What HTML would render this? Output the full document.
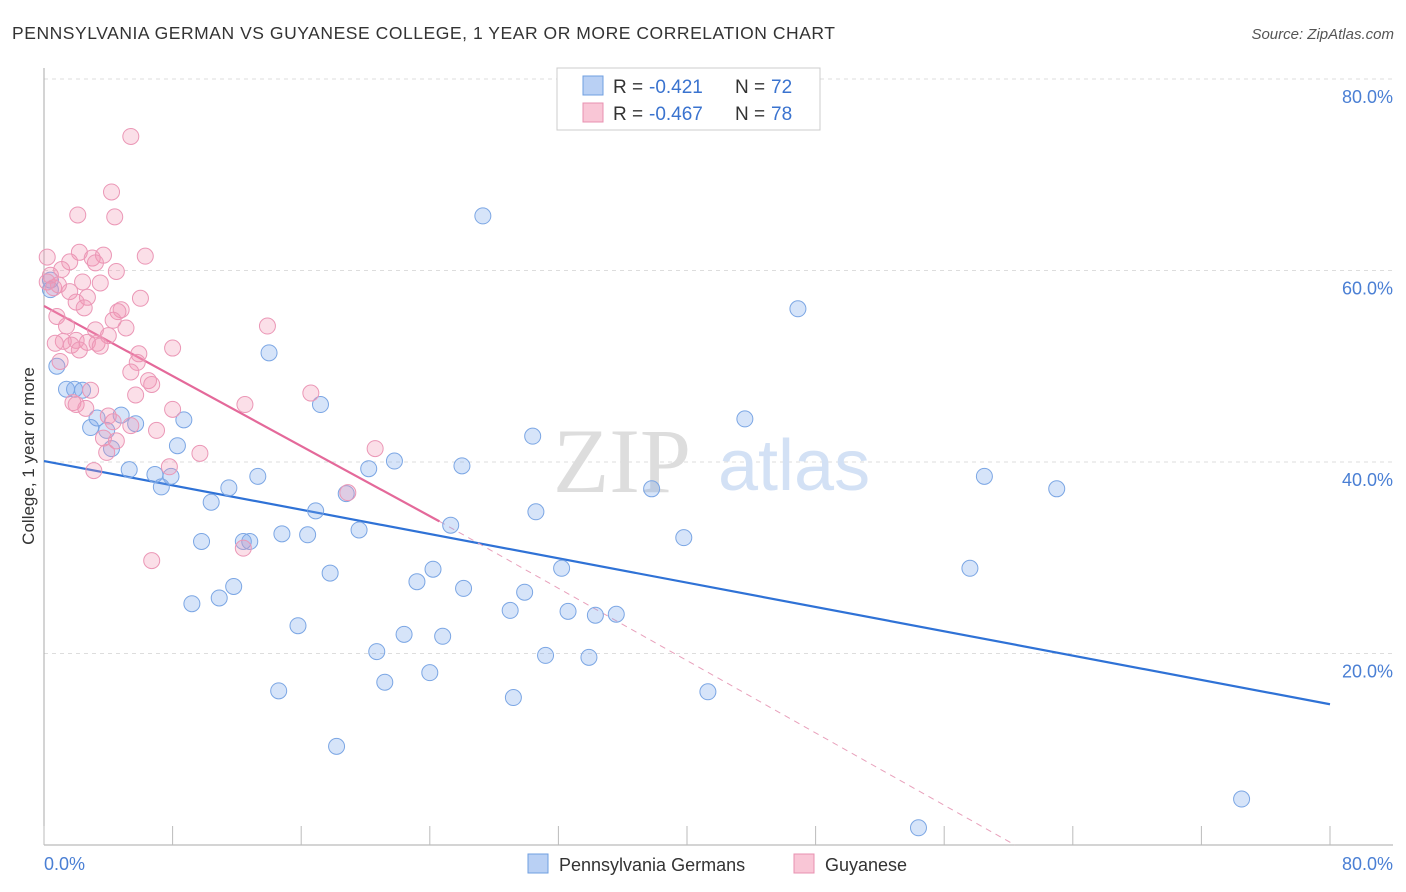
<!DOCTYPE html>
<html><head><meta charset="utf-8"><style>
body{margin:0;background:#fff;font-family:"Liberation Sans",sans-serif;}
svg{display:block}
</style></head><body>
<svg id="chart" width="1406" height="892" viewBox="0 0 1406 892" xmlns="http://www.w3.org/2000/svg">
<text x="12" y="39" font-size="17.5" fill="#333" textLength="823" lengthAdjust="spacing">PENNSYLVANIA GERMAN VS GUYANESE COLLEGE, 1 YEAR OR MORE CORRELATION CHART</text>
<text x="1394" y="39" font-size="15" fill="#555" text-anchor="end" font-style="italic">Source: ZipAtlas.com</text>
<g id="grid"></g>
<g>
<text x="553" y="492" font-size="92" fill="#ddd" font-family="Liberation Serif, serif">ZIP</text>
<text x="718" y="490" font-size="72" fill="#d3e1f5">atlas</text>
</g>
<text transform="translate(34,456) rotate(-90)" font-size="17" fill="#333" text-anchor="middle">College, 1 year or more</text>
<g id="axes"></g>
<g id="lines"></g>
<g id="pts"></g>
<g>
<rect x="557" y="68" width="263" height="62" fill="#fff" stroke="#ccc"/>
<rect x="583" y="76" width="20" height="19" fill="#b9d0f4" stroke="#6f9fe0"/>
<rect x="583" y="103" width="20" height="19" fill="#f9c6d6" stroke="#e890b0"/>
<text x="613" y="93" font-size="19" fill="#333">R =</text>
<text x="649" y="93" font-size="19" fill="#3a73cf">-0.421</text>
<text x="735" y="93" font-size="19" fill="#333">N =</text>
<text x="771" y="93" font-size="19" fill="#3a73cf">72</text>
<text x="613" y="120" font-size="19" fill="#333">R =</text>
<text x="649" y="120" font-size="19" fill="#3a73cf">-0.467</text>
<text x="735" y="120" font-size="19" fill="#333">N =</text>
<text x="771" y="120" font-size="19" fill="#3a73cf">78</text>
</g>
<g>
<rect x="528" y="854" width="20" height="19" fill="#b9d0f4" stroke="#6f9fe0"/>
<text x="559" y="871" font-size="18" fill="#333">Pennsylvania Germans</text>
<rect x="794" y="854" width="20" height="19" fill="#f9c6d6" stroke="#e890b0"/>
<text x="825" y="871" font-size="18" fill="#333">Guyanese</text>
</g>
</svg>
<script>
const yTicks=[20,40,60,80];
const yTickLabels=["20.0%","40.0%","60.0%","80.0%"];
const xTicks=[0,8,16,24,32,40,48,56,64,72,80];
const blueX=[27.3,46.9,14.0,0.8,1.4,1.9,2.4,17.2,43.6,4.8,3.3,8.7,5.7,2.9,3.9,30.4,8.3,4.2,21.8,26.0,20.2,5.3,6.9,7.9,13.3,58.5,63.0,7.3,11.5,37.8,18.8,10.4,16.9,30.6,25.3,19.6,14.8,16.4,39.8,9.8,12.4,12.8,32.2,57.6,24.2,17.8,23.2,11.8,26.1,29.9,10.9,9.2,29.0,32.6,34.3,35.6,15.8,22.4,24.8,20.7,31.2,33.9,24.0,21.2,14.6,41.3,29.2,18.2,74.5,54.4,0.4,0.4];
const blueY=[65.7,56.0,51.4,50.0,47.6,47.6,47.5,46.0,44.5,44.9,44.6,44.4,44.0,43.6,43.3,42.7,41.7,41.4,40.1,39.6,39.3,39.2,38.7,38.5,38.5,38.5,37.2,37.4,37.3,37.2,36.7,35.8,34.9,34.8,33.4,32.9,32.5,32.4,32.1,31.7,31.7,31.7,28.9,28.9,28.8,28.4,27.5,27.0,26.8,26.4,25.8,25.2,24.5,24.4,24.0,24.1,22.9,22.0,21.8,20.2,19.8,19.6,18.0,17.0,16.1,16.0,15.4,10.3,4.8,1.8,59.0,58.0];
const pinkX=[5.4,4.2,2.1,4.4,0.2,2.2,3.0,3.7,6.3,1.6,3.2,1.1,4.5,0.4,2.4,3.5,0.6,1.6,2.7,6.0,2.0,2.5,4.8,4.6,0.8,4.3,13.9,1.4,3.2,5.1,4.0,2.0,1.2,0.7,2.7,3.3,1.7,3.5,2.2,8.0,5.9,1.0,5.8,5.4,6.5,6.7,2.9,16.6,5.7,12.5,1.8,2.0,2.6,8.0,4.0,4.3,5.4,7.0,3.7,4.5,20.6,3.9,9.7,7.8,3.1,18.9,12.4,6.7,0.2,0.9];
const pinkY=[74.0,68.2,65.8,65.6,61.4,61.9,61.3,61.6,61.5,60.9,60.8,60.1,59.9,59.5,58.8,58.7,58.2,57.8,57.2,57.1,56.7,56.1,55.9,55.7,55.2,54.8,54.2,54.2,53.8,54.0,53.2,52.7,52.6,52.4,52.5,52.4,52.2,52.1,51.7,51.9,51.3,50.5,50.4,49.4,48.5,48.1,47.5,47.2,47.0,46.0,46.2,46.0,45.6,45.5,44.8,44.2,43.8,43.3,42.5,42.2,41.4,41.0,40.9,39.5,39.1,36.8,31.0,29.7,58.8,58.5];
const blueTrend=[[0,40.1],[80,14.7]];
const pinkTrend=[[0,56.3],[24.6,33.8]];
const pinkDash=[[24.6,33.8],[60.4,0]];
const NS="http://www.w3.org/2000/svg";
const xs=v=>44+v*16.075, ys=v=>845-v*9.575;
function mk(t,a,p){const e=document.createElementNS(NS,t);for(const k in a)e.setAttribute(k,a[k]);p.appendChild(e);return e;}
const grid=document.getElementById('grid'),axes=document.getElementById('axes');
yTicks.forEach((t,i)=>{
 const l=mk('line',{x1:44,x2:1393,y1:ys(t),y2:ys(t),stroke:'#ddd','stroke-dasharray':'4,4'},grid);
 
 
 const tx=mk('text',{x:1393,y:ys(t)+24,'font-size':18,fill:'#4a7fd4','text-anchor':'end'},axes);
 tx.textContent=yTickLabels[i];
 
 
});
mk('line',{x1:44,x2:44,y1:68,y2:845,stroke:'#aaa'},axes);
mk('line',{x1:44,x2:1393,y1:845,y2:845,stroke:'#aaa'},axes);
xTicks.forEach(t=>{const l=mk('line',{x1:xs(t),x2:xs(t),y1:826,y2:845,stroke:'#bbb'},axes);
 
 });
const x0=mk('text',{x:44,y:870,'font-size':18,fill:'#4a7fd4'},axes);x0.textContent="0.0%";


const x1=mk('text',{x:1393,y:870,'font-size':18,fill:'#4a7fd4','text-anchor':'end'},axes);x1.textContent="80.0%";


const pts=document.getElementById('pts'),lines=document.getElementById('lines');
function dots(X,Y,fill,stroke,name){X.forEach((x,i)=>{const c=mk('circle',{cx:xs(x),cy:ys(Y[i]),r:8,fill:fill,stroke:stroke,'stroke-width':1},pts);
 
 });}
dots(blueX,blueY,'rgba(120,165,235,0.3)','#7ba6e4','pennsylvania-german-point');
dots(pinkX,pinkY,'rgba(242,150,180,0.3)','#eb97b6','guyanese-point');
function ln(p,c,w,d,name){const l=mk('line',{x1:xs(p[0][0]),y1:ys(p[0][1]),x2:xs(p[1][0]),y2:ys(p[1][1]),stroke:c,'stroke-width':w},lines);if(d)l.setAttribute('stroke-dasharray',d);
 
 }
ln(blueTrend,'#2f72d6',2.2,null,'pennsylvania-german-trendline');
ln(pinkTrend,'#e4699a',2.2,null,'guyanese-trendline');
ln(pinkDash,'#e8a0bb',1,'6,5','guyanese-trendline-extension');
</script>
</body></html>
